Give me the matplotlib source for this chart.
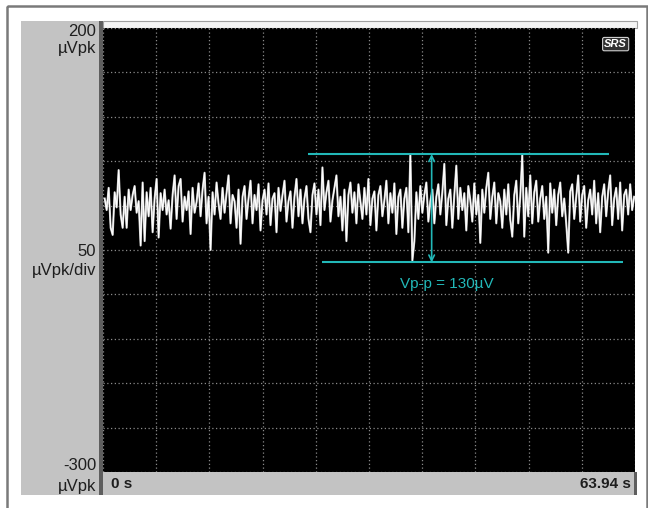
import numpy as np
import matplotlib
matplotlib.use("Agg")
import matplotlib.pyplot as plt
from matplotlib.patches import Rectangle

plt.rcParams['font.family'] = ['Liberation Sans', 'DejaVu Sans']

# trace values in uVpk (left to right)
noise_uv = [
    8, -5, 20, -25, -33, 15, -2, 40, -10, -25,
    10, -25, 18, -5, 12, 22, -8, 5, -45, 26,
    -40, 15, -12, 20, -30, 8, 30, -36, 14, -5,
    18, -10, 6, -26, 12, 34, -15, 22, 30, -18,
    10, -5, 16, -32, 20, -8, 4, 25, -12, 18,
    37, -20, 10, -50, 15, -10, 26, 2, -15, 20,
    -8, 14, 34, -20, 12, 5, -25, 18, -43, 10,
    22, -15, 8, 28, -20, 12, -5, 24, -28, 6,
    18, -10, 25, -22, 8, 14, -30, 20, -6, 12,
    28, -18, 5, 16, -25, 10, 30, -12, 18, -20,
    8, 22, -15, -30, 12, 25, -10, 18, -22, 43,
    -5, 15, 28, -18, 6, 20, 34, -12, 10, -28,
    18, -40, 12, 26, -8, 15, -20, 24, 5, -15,
    20, -10, 30, -22, 8, 16, -28, 12, 22, -12,
    6, 28, -20, 14, -8, 25, -32, 10, 18, -25,
    8, 20, -30, 58, -62, -40, 15, -15, 22, -8,
    12, 26, -18, 5, 18, -20, 10, 24, -10, 15,
    47, -22, 8, 18, -25, 12, 45, -15, 20, -5,
    14, -28, 22, 6, -18, 25, -10, 12, -42, 18,
    -8, 20, 37, -15, 10, 26, -20, 14, 5, -25,
    18, -10, 24, -16, -35, 12, 28, -20, 10, 57,
    -35, 20, -12, 34, -20, 15, 28, -18, 8, 22,
    -15, 10, -53, 25, -8, 18, -22, 12, 26, -12,
    8, -20, -53, 16, 24, -15, 10, 34, -18, 12,
    22, -25, 6, 18, -10, 28, -20, 14, -30, 10,
    24, -12, 16, 34, -22, 8, 20, -15, 26, -28,
    12, 18, -10, 24, -5, 10,
]

t_end = 63.94
y_top, y_bot = 200, -300
vpp_hi, vpp_lo = 58, -64
vpp_label = "Vp-p = 130µV"

W, H = 648, 508
fig = plt.figure(figsize=(W / 100, H / 100), dpi=100)
fig.patch.set_facecolor('white')


def fx(px):
    return px / W


def fy(py):
    return 1 - py / H


# frame + side panels (screenshot chrome)
back = fig.add_axes([0, 0, 1, 1])
back.set_xlim(0, W)
back.set_ylim(H, 0)
back.axis('off')
back.add_patch(Rectangle((7, 6), 640, 520, fill=False, ec='#7a7a7a', lw=1.8))
back.add_patch(Rectangle((21, 21), 80, 474, fc='#c3c3c3', ec='none'))
back.add_patch(Rectangle((99, 21), 4, 474, fc='#5e5e5e', ec='none'))
back.add_patch(Rectangle((103, 21), 534, 7, fc='#f4f4f4', ec='#a0a0a0', lw=0.8))
back.add_patch(Rectangle((103, 472), 533, 23, fc='#c3c3c3', ec='none'))
back.add_patch(Rectangle((634, 472), 3, 23, fc='#5e5e5e', ec='none'))

txt = dict(color='#1e1e1e', ha='right', fontsize=12)
back.text(96, 31, "200", va='center', **txt)
back.text(96, 48, "µVpk", va='center', **txt)
back.text(96, 251, "50", va='center', **txt)
back.text(96, 270, "µVpk/div", va='center', **txt)
back.text(96, 466, "-300", va='center', **txt)
back.text(96, 486, "µVpk", va='center', **txt)
back.text(111, 484, "0 s", va='center', ha='left', fontsize=11,
          fontweight='bold', color='#1e1e1e')
back.text(631, 484, "63.94 s", va='center', ha='right', fontsize=11,
          fontweight='bold', color='#1e1e1e')

# scope screen
ax = fig.add_axes([fx(103), fy(472), fx(635) - fx(103), fy(28) - fy(472)])
ax.set_facecolor('black')
ax.set_xlim(0, t_end)
ax.set_ylim(y_bot, y_top)
ax.set_xticks(np.linspace(0, t_end, 11))
ax.set_yticks(np.arange(y_bot, y_top + 1, 50))
ax.grid(True, color='#8a8a8a', linestyle=(0, (1, 2)), lw=0.9)
ax.tick_params(length=0, labelbottom=False, labelleft=False)
for s in ax.spines.values():
    s.set_visible(False)

t = np.linspace(0.2, t_end - 0.1, len(noise_uv))
ax.plot(t, noise_uv, color='#d8d8d8', lw=1.5, alpha=0.9)
ax.plot(t, noise_uv, color='white', lw=0.8)

# Vp-p markers
cyan = '#22b8b8'
ax.hlines(vpp_hi, 24.6, 60.8, color=cyan, lw=1.5)
ax.hlines(vpp_lo, 26.3, 62.5, color=cyan, lw=1.5)
ax.annotate('', xy=(39.5, vpp_hi), xytext=(39.5, vpp_lo),
            arrowprops=dict(arrowstyle='<->', color=cyan, lw=1.2,
                            shrinkA=0, shrinkB=0))
ax.text(41.3, -88, vpp_label, color=cyan, fontsize=11, ha='center', va='center')

# SRS badge
ax.text(0.985, 0.975, "SRS", transform=ax.transAxes, ha='right', va='top',
        color='white', fontsize=8, style='italic', fontweight='bold',
        bbox=dict(boxstyle='round,pad=0.15', fc='#303030', ec='#d0d0d0', lw=0.8))

fig.savefig('out.png', dpi=100)
